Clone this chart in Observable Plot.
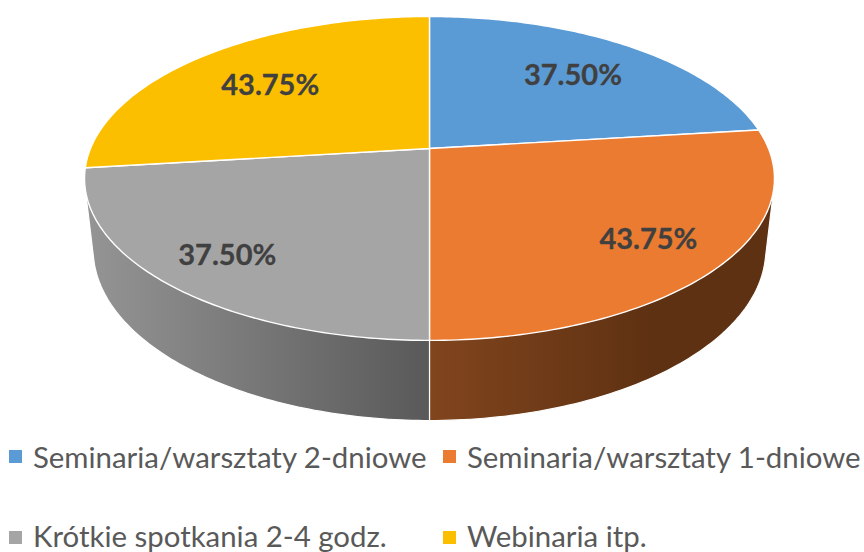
<!DOCTYPE html>
<html><head><meta charset="utf-8">
<script src="https://cdn.jsdelivr.net/npm/d3@7"></script>
<script src="https://cdn.jsdelivr.net/npm/@observablehq/plot@0.6"></script>
<style>
html,body{margin:0;padding:0;background:#fff;overflow:hidden}
#chart{width:864px;height:552px;position:relative;overflow:hidden}
#chart svg{display:block}
.lg{position:absolute;font:29.4px Lato,sans-serif;color:#595959;white-space:nowrap;line-height:28px;height:28px}
.sw{position:absolute;width:13px;height:13px}
</style></head><body><div id="chart"></div>
<script>
const categories = ["Seminaria/warsztaty 2-dniowe","Seminaria/warsztaty 1-dniowe","Krótkie spotkania 2-4 godz.","Webinaria itp."];
const values = [37.5, 43.75, 37.5, 43.75];
const colors = ["#5b9bd5","#eb7b30","#a5a5a5","#fcbf00"];
const labelRadius = [0.7, 0.78, 0.8, 0.68];
const legendLeft = [9, 443, 9, 443];
const legendTop = [443, 443, 522, 522];

const W = 864, H = 430, cx = 429, cy = 148, a = 339, b = 156.4;
const k = 0.185, s = 0.975, drop = 69.2 / 156.4;
const total = d3.sum(values);
let acc = 0;
const slices = categories.map((name, i) => {
  const start = acc / total * 2 * Math.PI;
  acc += values[i];
  const end = acc / total * 2 * Math.PI;
  return {name, value: values[i], start, end, mid: (start + end) / 2, r: labelRadius[i]};
});
const proj = (t, r = 1, scale = 1, dz = 0) => {
  const u = r * Math.sin(t), v = -r * Math.cos(t), w = 1 - k * v;
  return [scale * u / w, (scale * v + dz) / w];
};
const arc = (sl, scale, dz) => d3.range(0, 101).map(i => proj(sl.start + (sl.end - sl.start) * i / 100, 1, scale, dz));
const topPts = slices.flatMap(sl => [[0, 0], ...arc(sl, 1, 0)].map(([x, y]) => ({x, y, name: sl.name})));
const gradId = {[categories[1]]: "url(#sideOrange)", [categories[2]]: "url(#sideGray)"};
const front = slices.filter(sl => Math.cos(sl.mid) < 0);
const sidePts = front.flatMap(sl =>
  d3.polygonHull([...arc(sl, 1, 0), ...arc(sl, s, drop)]).map(([x, y]) => ({x, y, name: sl.name, fill: gradId[sl.name]})));
const labels = slices.map(sl => {
  const [x, y] = proj(sl.mid, sl.r);
  return {x, y, text: sl.value.toFixed(2) + "%"};
});

function gradients() {
  const ns = "http://www.w3.org/2000/svg";
  const defs = document.createElementNS(ns, "defs");
  const def = [["sideOrange", [[0, "#81451d"], [0.65, "#5e3112"], [1, "#5e3112"]]],
               ["sideGray", [[0, "#959595"], [1, "#595959"]]]];
  for (const [id, stops] of def) {
    const g = document.createElementNS(ns, "linearGradient");
    g.setAttribute("id", id);
    for (const [o, c] of stops) {
      const st = document.createElementNS(ns, "stop");
      st.setAttribute("offset", o); st.setAttribute("stop-color", c);
      g.appendChild(st);
    }
    defs.appendChild(g);
  }
  return defs;
}

const plot = Plot.plot({
  width: W, height: H, margin: 0,
  style: {background: "transparent"},
  x: {domain: [-cx / a, (W - cx) / a], range: [0, W], axis: null},
  y: {domain: [-cy / b, (H - cy) / b], range: [0, H], axis: null},
  color: {domain: categories, range: colors},
  marks: [
    gradients,
    ...front.map(sl => Plot.line(sidePts.filter(d => d.name === sl.name), {
      x: "x", y: "y", fill: gradId[sl.name], stroke: "#fff", strokeWidth: 1.2, curve: "linear-closed"})),
    Plot.line(topPts, {x: "x", y: "y", z: "name", fill: "name", stroke: "#fff", strokeWidth: 1.4, curve: "linear-closed", strokeLinejoin: "round"}),
    Plot.text(labels, {x: "x", y: "y", dy: 2, text: "text", fill: "#404040", stroke: "#404040", strokeWidth: 0.3, fontSize: 29, fontWeight: 700, fontFamily: "Lato"})
  ]
});
const root = document.getElementById("chart");
root.appendChild(plot);
categories.forEach((c, i) => {
  const sw = document.createElement("div");
  sw.className = "sw";
  sw.style.cssText = `left:${legendLeft[i]}px;top:${(i < 2 ? legendTop[i] + 7 : legendTop[i] + 9)}px;background:${colors[i]}`;
  const t = document.createElement("div");
  t.className = "lg";
  t.textContent = c;
  t.style.cssText = `left:${legendLeft[i] + 24}px;top:${legendTop[i]}px`;
  root.append(sw, t);
});
</script></body></html>
